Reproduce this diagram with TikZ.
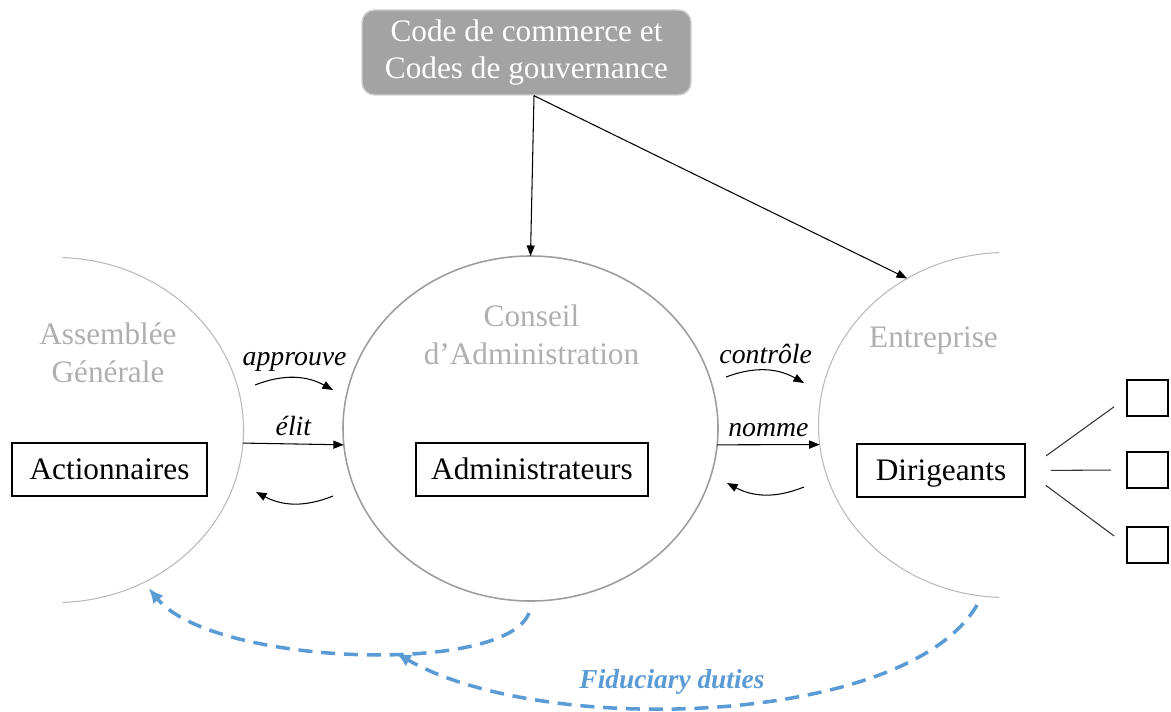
\documentclass[tikz,border=0pt]{standalone}
\usepackage{fontspec}
\setmainfont{Liberation Serif}
\usetikzlibrary{shapes.geometric,arrows.meta}
\definecolor{fidblue}{RGB}{91,155,213}
\definecolor{ringgray}{RGB}{185,185,185}
\definecolor{titlegray}{RGB}{175,175,175}
\definecolor{codegray}{RGB}{163,163,163}

\begin{document}
\begin{tikzpicture}[
  big/.style={font=\fontsize{17.8}{21.5}\selectfont},
  lab/.style={font=\fontsize{15.8}{19}\selectfont\itshape},
  box/.style={draw, line width=0.9pt, big, minimum height=1.06cm, inner sep=0pt, text height=12pt, text depth=1pt},
  ring/.style={ellipse, minimum width=7.5cm, minimum height=6.9cm, inner sep=0pt, outer sep=0pt},
  title/.style={big, text=titlegray, align=center},
  arr/.style={-{Triangle[length=6pt,width=4.6pt]}, line width=0.6pt},
  fid/.style={fidblue, line width=2pt, dash pattern=on 8pt off 5pt, -{Latex[length=8.5pt,width=7.5pt]}}
]
\useasboundingbox (0,0) rectangle (23.42,14.22);

% rings
\node[ring] (ag) at (1.12,5.62) {};
\node[ring, draw=ringgray!85!black, line width=0.9pt] (ca) at (10.61,5.65) {};
\node[ring] (ent) at (20.12,5.72) {};
\draw[ringgray, line width=0.6pt] (ag.center) ++(88:3.75 and 3.45) arc[start angle=88, end angle=-88, x radius=3.75, y radius=3.45];
\draw[ringgray, line width=0.6pt] (ent.center) ++(92:3.75 and 3.45) arc[start angle=92, end angle=268, x radius=3.75, y radius=3.45];

\node[title] (agt) at (2.16,7.17) {Assemblée\\Générale};
\node[title] (cat) at (10.63,7.53) {Conseil\\d’Administration};
\node[title, anchor=base] (entt) at (18.67,7.28) {Entreprise};

% actors
\node[box, minimum width=3.9cm] (act) at (2.19,4.83) {Actionnaires};
\node[box, minimum width=4.65cm] (adm) at (10.64,4.83) {Administrateurs};
\node[box, minimum width=3.36cm] (dir) at (18.82,4.81) {Dirigeants};

\foreach \i/\y in {1/6.26,2/4.82,3/3.32}
  \node[draw, line width=0.9pt, minimum width=0.82cm, minimum height=0.72cm, inner sep=0pt] (sq\i) at (22.95,\y) {};
\foreach \i in {1,2,3}
  \draw[black!80, line width=0.6pt, shorten <=0.5cm, shorten >=0.3cm] (dir.east) -- (sq\i.west);

% codes
\node[draw=codegray!50, line width=0.8pt, fill=codegray, rounded corners=0.25cm, text=white, big, align=center, minimum width=6.58cm, minimum height=1.7cm] (code) at (10.53,13.17) {Code de commerce et\\Codes de gouvernance};
\coordinate (src) at ([xshift=0.15cm]code.south);
\draw[arr] (src) -- (ca.north);
\draw[arr] (src) -- (ent.124);

% relations
\draw[arr] (ag.-4.5) -- node[lab, above=1pt] {élit} (ca.185);
\draw[arr] (ca.-5) -- node[lab, above=1pt] {nomme} (ent.186);

\coordinate (ap1) at (5.10,6.52); \coordinate (ap2) at (6.66,6.42);
\draw[arr] (ap1) to[bend left=25] node[lab, above] {approuve} (ap2);
\coordinate (rb1) at (6.66,4.30); \coordinate (rb2) at (5.12,4.38);
\draw[arr] (rb1) to[bend left=25] (rb2);
\coordinate (ct1) at (14.52,6.68); \coordinate (ct2) at (16.08,6.56);
\draw[arr] (ct1) to[bend left=25] node[lab, above] {contrôle} (ct2);
\coordinate (rc1) at (16.08,4.48); \coordinate (rc2) at (14.54,4.56);
\draw[arr] (rc1) to[bend left=25] (rc2);

% fiduciary duties
\coordinate (fa) at (10.58,1.96);
\coordinate (fb) at (19.54,2.12);
\coordinate (fm) at (7.92,1.16);
\draw[fid, shorten >=0.15cm] (fa) .. controls (10.1,0.7) and (4.24,0.91) .. (ag.-60);
\draw[fid] (fb) .. controls (18.14,-0.30) and (10.86,-0.54) .. (fm);
\node[fidblue, font=\fontsize{15.6}{19}\selectfont\bfseries\itshape] (fidt) at (13.44,0.58) {Fiduciary duties};

\end{tikzpicture}
\end{document}
